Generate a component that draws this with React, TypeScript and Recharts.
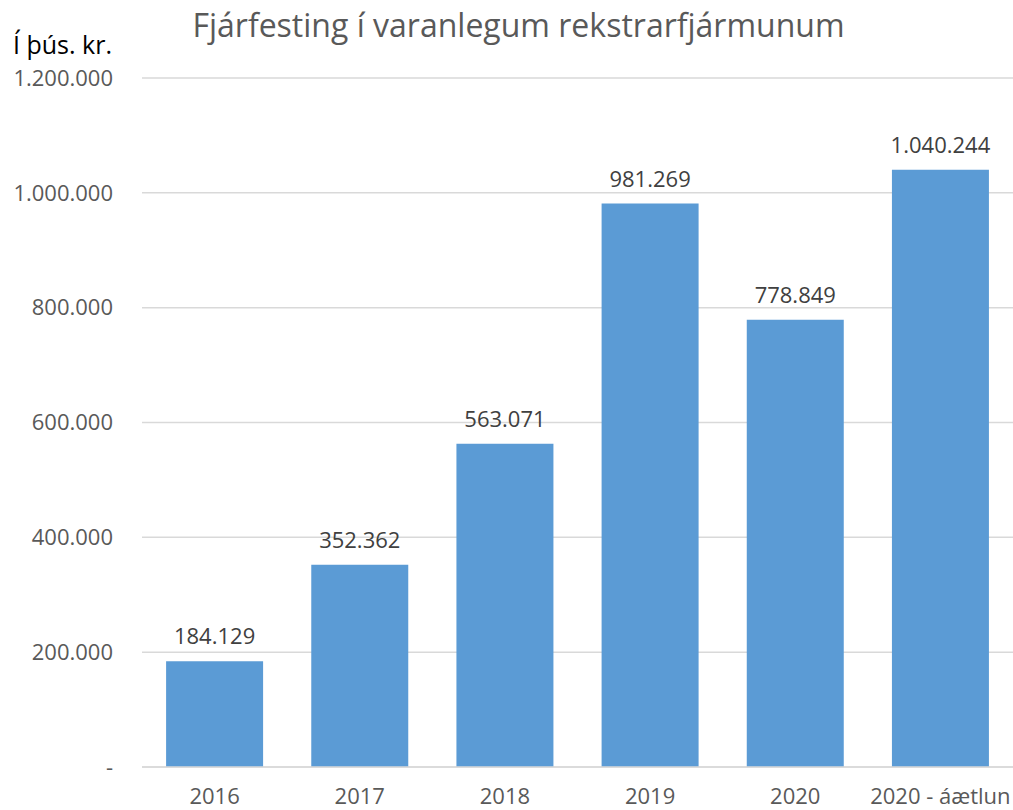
import React from "react";
import { BarChart, Bar, XAxis, YAxis, CartesianGrid, LabelList } from "recharts";

const categories = ["2016", "2017", "2018", "2019", "2020", "2020 - áætlun"];
const values = [184129, 352362, 563071, 981269, 778849, 1040244];
const yTicks = [0, 200000, 400000, 600000, 800000, 1000000, 1200000];
const title = "Fjárfesting í varanlegum rekstrarfjármunum";
const unitLabel = "Í þús. kr.";

const data = categories.map((c, i) => ({ name: c, value: values[i] }));

const FONT = "'Open Sans', 'Noto Sans', sans-serif";

const fmt = (v: number) =>
  v === 0 ? "-" : String(Math.round(v)).replace(/\B(?=(\d{3})+(?!\d))/g, ".");

export default function App() {
  return (
    <div style={{ position: "absolute", left: 0, top: 0, width: 1013, height: 810, background: "#fff", fontFamily: FONT }}>
      <div style={{ position: "absolute", left: 0, width: 1013, top: 3, textAlign: "center", fontSize: 32, color: "#595959", lineHeight: "44px", paddingLeft: 24, boxSizing: "border-box" }}>
        {title}
      </div>
      <div style={{ position: "absolute", left: 13, top: 27, fontSize: 25, color: "#000", lineHeight: "34px" }}>
        {unitLabel}
      </div>
      <BarChart
        width={1013}
        height={810}
        data={data}
        margin={{ top: 78, right: 0, left: 0, bottom: 0 }}
        barCategoryGap="16.6%"
      >
        <CartesianGrid vertical={false} stroke="#d9d9d9" strokeWidth={1.5} />
        <XAxis
          dataKey="name"
          axisLine={{ stroke: "#d9d9d9", strokeWidth: 1.5 }}
          tickLine={false}
          tickSize={0}
          tickMargin={21}
          tick={{ fill: "#595959", fontSize: 22, fontFamily: FONT }}
          interval={0}
          height={43}
        />
        <YAxis
          width={142}
          domain={[0, 1200000]}
          ticks={yTicks}
          tickFormatter={fmt}
          axisLine={false}
          tickLine={false}
          tickSize={0}
          tickMargin={29}
          tick={{ fill: "#595959", fontSize: 22, fontFamily: FONT }}
          interval={0}
        />
        <Bar dataKey="value" fill="#5B9BD5" isAnimationActive={false}>
          <LabelList
            dataKey="value"
            position="top"
            offset={17}
            formatter={(v: any) => fmt(Number(v))}
            style={{ fill: "#404040", fontSize: 22, fontFamily: FONT }}
          />
        </Bar>
      </BarChart>
    </div>
  );
}
